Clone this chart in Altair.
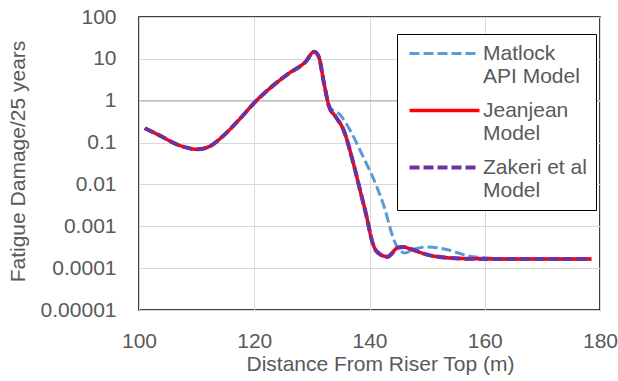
import altair as alt
import pandas as pd

# Fatigue damage along the riser for three soil models
matlock_x = [101, 103.5, 106.9, 110.1, 112.4, 114.5, 117.35, 120.2, 123.1, 126, 128.9, 130.4, 131.2,
             132.1, 133.0, 134.9, 136.6, 138.9, 141.25, 142.7, 143.85, 145, 146.2, 147.6,
             149.9, 153.4, 156.9, 159.8, 165, 178.5]
matlock_y = [0.22, 0.15, 0.087, 0.069, 0.083, 0.14, 0.35, 0.95, 2.2, 4.5, 8.5, 14.8, 11.2,
             2.6, 0.72, 0.46, 0.2, 0.046, 0.0089, 0.0025, 0.00068, 0.00029, 0.00023, 0.00028,
             0.00032, 0.00028, 0.0002, 0.000178, 0.000165, 0.000165]

jeanjean_x = [101, 103.5, 106.9, 110.1, 112.4, 114.5, 117.35, 120.2, 123.1, 126, 128.9, 130.4, 131.2,
              132.1, 133.0, 134.1, 135.5, 137.2, 138.35, 139.5, 140.4, 141.25, 143.0, 145.0, 145.9,
              147.0, 150.0, 154.0, 158.0, 165, 178.5]
jeanjean_y = [0.22, 0.15, 0.087, 0.069, 0.083, 0.14, 0.35, 0.95, 2.2, 4.5, 8.5, 14.8, 11.2,
              2.6, 0.72, 0.42, 0.2, 0.032, 0.0074, 0.0017, 0.00047, 0.00025, 0.00019, 0.00031, 0.00032,
              0.00029, 0.00021, 0.000175, 0.000167, 0.000165, 0.000165]

zakeri_x = [101, 103.5, 106.9, 110.1, 112.4, 114.5, 117.35, 120.2, 123.1, 126, 128.9, 130.4, 131.2,
            132.1, 133.0, 134.1, 135.5, 137.2, 138.35, 139.5, 140.4, 141.25, 143.1, 145.0, 145.9,
            147.0, 150.0, 154.0, 158.0, 165, 178.5]
zakeri_y = [0.22, 0.15, 0.087, 0.069, 0.083, 0.14, 0.35, 0.95, 2.2, 4.5, 8.5, 14.8, 11.2,
            2.6, 0.72, 0.42, 0.2, 0.032, 0.0074, 0.0017, 0.00047, 0.00025, 0.000185, 0.00031, 0.00032,
            0.00029, 0.00021, 0.000175, 0.000167, 0.000165, 0.000165]

series_names = ["Matlock|API Model", "Jeanjean|Model", "Zakeri et al|Model"]
series_colors = ["#5b9bd5", "#ff0000", "#7030a0"]
series_dashes = [[10, 4], [1, 0], [10, 4]]
series_widths = [3, 4, 3.5]

y_ticks = [0.00001, 0.0001, 0.001, 0.01, 0.1, 1, 10, 100]
x_ticks = [100, 120, 140, 160, 180]

frames = []
for order, (name, xs, ys) in enumerate(zip(series_names,
                                           [matlock_x, jeanjean_x, zakeri_x],
                                           [matlock_y, jeanjean_y, zakeri_y])):
    frames.append(pd.DataFrame({"distance": xs, "damage": ys, "series": name, "order": order}))
df = pd.concat(frames, ignore_index=True)

FONT = "Liberation Sans"
TEXT = "#595959"

x_enc = alt.X("distance:Q",
              scale=alt.Scale(domain=[100, 180], nice=False, zero=False),
              axis=alt.Axis(values=x_ticks, title="Distance From Riser Top (m)",
                            tickSize=0, domain=False, labelPadding=20, labelFlush=False,
                            titleX=241, titleY=60, titleBaseline="alphabetic",
                            titleAlign="center"))
y_enc = alt.Y("damage:Q",
              scale=alt.Scale(type="log", domain=[0.00001, 100], nice=False),
              axis=alt.Axis(values=y_ticks, title="Fatigue Damage/25 years",
                            tickSize=0, domain=False, labelPadding=23, labelFlush=False,
                            labelExpr="datum.value < 1 ? format(datum.value, '.' + round(-log(datum.value)/LN10) + 'f') : format(datum.value, 'd')",
                            titleX=-115, titleY=144, titleBaseline="alphabetic",
                            titleAlign="center", titleAngle=-90))

# legend key: a 70px stroke drawn from the left edge of the symbol slot
legend_key = "M-1.4,0H12.6"

lines = alt.Chart(df).mark_line(interpolate="monotone").encode(
    x=x_enc,
    y=y_enc,
    color=alt.Color("series:N",
                    scale=alt.Scale(domain=series_names, range=series_colors),
                    legend=alt.Legend(orient="none", legendX=258, legendY=17, title=None,
                                      symbolType=legend_key, symbolSize=100,
                                      symbolStrokeWidth=3.5, labelOffset=56,
                                      labelExpr="split(datum.label, '|')",
                                      labelFont=FONT, labelFontSize=21, labelColor=TEXT,
                                      labelLimit=0, labelBaseline="middle",
                                      strokeColor="black", fillColor="white",
                                      padding=9, rowPadding=12)),
    strokeDash=alt.StrokeDash("series:N",
                              scale=alt.Scale(domain=series_names, range=series_dashes)),
    strokeWidth=alt.StrokeWidth("series:N",
                                scale=alt.Scale(domain=series_names, range=series_widths),
                                legend=None),
    order="order:Q",
)

unity = alt.Chart(pd.DataFrame({"damage": [1]})).mark_rule(color="#bfbfbf", strokeWidth=1.2).encode(
    y=alt.Y("damage:Q")
)

chart = alt.layer(unity, lines).properties(
    width=461, height=293,
    background="white",
    autosize=alt.AutoSizeParams(type="none"),
    padding={"left": 139, "top": 17, "right": 18, "bottom": 71},
).configure_view(
    stroke="black", strokeWidth=1.5
).configure_axis(
    gridColor="#d9d9d9", gridWidth=1,
    labelFont=FONT, labelFontSize=21, labelColor=TEXT,
    titleFont=FONT, titleFontSize=21, titleColor=TEXT, titleFontWeight="normal",
)

chart.save("out.html", embed_options={"renderer": "svg", "actions": False})
